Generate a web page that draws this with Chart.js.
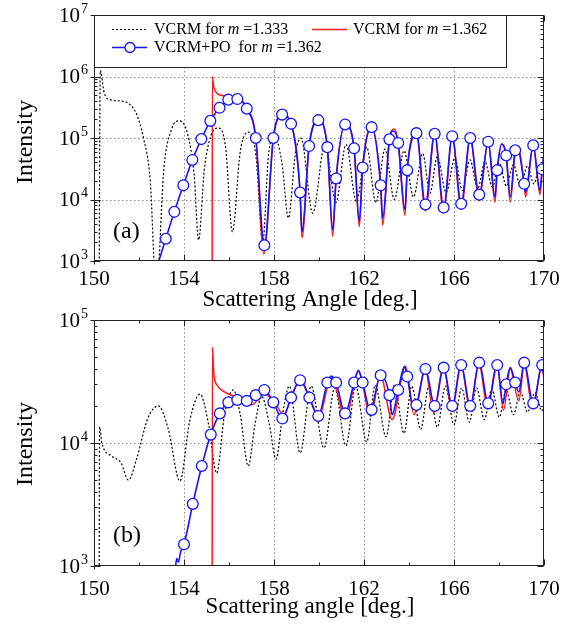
<!DOCTYPE html>
<html>
<head>
<meta charset="utf-8">
<script src="https://cdn.jsdelivr.net/npm/chart.js@4.4.0/dist/chart.umd.min.js"></script>
<style>
  html, body { margin: 0; padding: 0; background: #fff; }
  #wrap { position: relative; width: 579px; height: 624px; overflow: hidden; }
  canvas { position: absolute; left: 0; }
  #topChart { top: 0; }
  #botChart { top: 296px; }
</style>
</head>
<body>
<div id="wrap">
  <canvas id="topChart" width="579" height="312"></canvas>
  <canvas id="botChart" width="579" height="328"></canvas>
</div>
<script>
// ---- panel (a) ----
const blackTopAngle = [150.22, 150.28, 150.45, 150.7, 151.2, 151.6, 151.9, 152.2, 152.5, 152.77, 153.1, 153.45, 153.78, 154.15, 154.45, 154.65, 154.9, 155.2, 155.53, 155.85, 156.15, 156.5, 156.86, 157.2, 157.5, 157.75, 158.0, 158.35, 158.64, 158.95, 159.2, 159.72, 160.27, 160.75, 161.2, 161.66, 162.12, 162.53, 162.93, 163.35, 163.78, 164.2, 164.61, 164.93, 165.26, 165.65, 166.04, 166.37, 166.71, 167.05, 167.38, 167.7, 168.01, 168.33, 168.64, 168.95, 169.27, 169.55, 169.82, 170];
const blackTopValue = [100, 1.25e6, 5.5e5, 4.2e5, 4.0e5, 3.5e5, 2.4e5, 1.0e5, 2.0e4, 300, 3.0e4, 1.4e5, 1.9e5, 1.2e5, 2.5e4, 2.2e3, 3.0e4, 1.1e5, 1.45e5, 7.0e4, 3.0e3, 6.0e4, 1.25e5, 5.0e4, 2.0e3, 5.0e4, 1.1e5, 4.0e4, 5.0e3, 5.5e4, 1.0e5, 6.0e3, 8.1e4, 8.9e3, 7.8e4, 9.3e3, 7.1e4, 8.9e3, 6.6e4, 1.0e4, 6.2e4, 1.1e4, 5.6e4, 1.26e4, 5.0e4, 1.3e4, 4.7e4, 1.4e4, 4.4e4, 1.5e4, 4.1e4, 1.6e4, 3.9e4, 1.65e4, 3.7e4, 1.65e4, 3.5e4, 1.8e4, 3.5e4, 3.0e4];

const redTopAngle = [155.25, 155.26, 155.32, 155.45, 155.7, 156.0, 156.4, 156.79, 157.19, 157.55, 157.97, 158.36, 158.76, 159.16, 159.24, 159.56, 159.97, 160.37, 160.61, 160.76, 161.16, 161.56, 161.79, 161.94, 162.34, 162.74, 162.83, 163.13, 163.35, 163.52, 163.82, 163.92, 164.33, 164.73, 165.14, 165.54, 165.92, 166.32, 166.72, 167.12, 167.52, 167.82, 167.92, 168.12, 168.32, 168.5, 168.72, 168.82, 169.12, 169.18, 169.52, 169.82, 169.92, 170];
const redTopValue = [100, 1.0e6, 6.8e5, 5.4e5, 4.9e5, 4.7e5, 4.5e5, 3.1e5, 1.0e5, 1.3e3, 1.0e5, 2.4e5, 1.7e5, 1.3e4, 2.4e3, 7.4e4, 1.95e5, 7.1e4, 2.5e3, 2.2e4, 1.66e5, 6.8e4, 3.6e3, 3.3e4, 1.5e5, 1.7e4, 3.8e3, 9.5e4, 1.4e5, 8.3e4, 5.5e3, 3.0e4, 1.2e5, 6.5e3, 1.17e5, 6.0e3, 1.07e5, 7.0e3, 1.0e5, 9.5e3, 8.7e4, 9.0e3, 3.0e4, 8.0e4, 5.2e4, 9.0e3, 6.3e4, 7.5e4, 1.8e4, 1.1e4, 7.6e4, 1.2e4, 3.1e4, 5.5e4];

// VCRM+PO: open-circle samples, plus the turning points the line passes between them
const blueTopMarkAngle = [153.19, 153.57, 153.97, 154.37, 154.77, 155.17, 155.58, 155.97, 156.37, 156.79, 157.19, 157.57, 157.97, 158.36, 158.76, 159.16, 159.56, 159.97, 160.37, 160.76, 161.16, 161.56, 161.94, 162.34, 162.74, 163.13, 163.52, 163.92, 164.33, 164.73, 165.14, 165.54, 165.92, 166.32, 166.72, 167.12, 167.52, 167.92, 168.32, 168.72, 169.12, 169.52, 169.92];
const blueTopMarkValue = [2.3e3, 6.3e3, 1.7e4, 4.4e4, 9.6e4, 1.9e5, 3.1e5, 4.2e5, 4.3e5, 3.0e5, 1.0e5, 1.8e3, 1.0e5, 2.4e5, 1.7e5, 1.3e4, 7.4e4, 1.95e5, 7.1e4, 2.2e4, 1.66e5, 6.8e4, 3.3e4, 1.5e5, 1.7e4, 9.5e4, 8.3e4, 3.0e4, 1.2e5, 8.3e3, 1.17e5, 7.4e3, 1.07e5, 8.5e3, 1.0e5, 1.2e4, 8.7e4, 3.0e4, 5.2e4, 6.3e4, 1.8e4, 7.6e4, 3.1e4];
const blueTopLineAngle = [152.75, 152.95, 159.24, 160.61, 161.79, 162.83, 163.3, 163.82, 167.82, 168.12, 168.5, 168.82, 169.18, 169.82, 170];
const blueTopLineValue = [700, 1.2e3, 3.0e3, 3.2e3, 4.4e3, 4.9e3, 1.3e5, 6.8e3, 1.1e4, 8.0e4, 1.1e4, 7.0e4, 1.3e4, 1.4e4, 5.5e4];

// ---- panel (b) ----
const blackBotAngle = [150.22, 150.25, 150.35, 150.8, 151.2, 151.53, 151.9, 152.4, 152.86, 153.3, 153.82, 154.25, 154.71, 155.1, 155.45, 155.8, 156.19, 156.5, 156.86, 157.15, 157.45, 157.8, 158.09, 158.4, 158.68, 159.16, 159.65, 160.22, 160.7, 161.2, 161.63, 162.12, 162.5, 162.98, 163.35, 163.78, 164.12, 164.52, 164.88, 165.26, 165.62, 166.0, 166.34, 166.68, 167.0, 167.35, 167.68, 168.01, 168.32, 168.64, 168.95, 169.27, 169.6, 169.9, 170];
const blackBotValue = [100, 1.35e4, 1.0e4, 7.8e3, 6.9e3, 5.0e3, 7.5e3, 1.6e4, 2.0e4, 1.3e4, 4.9e3, 1.5e4, 2.5e4, 1.4e4, 5.7e3, 1.7e4, 2.7e4, 1.7e4, 6.5e3, 1.4e4, 2.4e4, 1.4e4, 7.4e3, 1.8e4, 2.9e4, 8.3e3, 2.9e4, 9.1e3, 2.8e4, 9.5e3, 2.9e4, 1.02e4, 2.95e4, 1.12e4, 2.95e4, 1.2e4, 2.9e4, 1.29e4, 2.9e4, 1.35e4, 2.9e4, 1.41e4, 2.8e4, 1.48e4, 2.8e4, 1.55e4, 2.75e4, 1.62e4, 2.7e4, 1.7e4, 2.6e4, 1.78e4, 2.57e4, 1.82e4, 2.0e4];

const redBotAngle = [155.25, 155.26, 155.33, 155.5, 155.8, 156.2, 156.6, 157.02, 157.55, 158.0, 158.42, 158.85, 159.18, 159.6, 159.97, 160.55, 161.18, 161.75, 162.3, 162.72, 163.25, 163.85, 164.22, 164.72, 165.1, 165.52, 165.92, 166.3, 166.72, 167.1, 167.5, 167.9, 168.2, 168.5, 168.88, 169.12, 169.5, 169.9, 170];
const redBotValue = [100, 6.0e4, 3.6e4, 2.9e4, 2.6e4, 2.4e4, 2.2e4, 2.05e4, 2.5e4, 2.2e4, 1.7e4, 2.6e4, 3.2e4, 2.3e4, 1.6e4, 3.4e4, 1.6e4, 3.8e4, 1.65e4, 3.6e4, 1.55e4, 4.2e4, 1.7e4, 4.0e4, 1.75e4, 4.2e4, 1.8e4, 4.4e4, 1.85e4, 4.5e4, 1.9e4, 4.5e4, 1.85e4, 4.0e4, 2.2e4, 4.3e4, 1.9e4, 4.2e4, 3.3e4];

const blueBotMarkAngle = [154.0, 154.39, 154.79, 155.19, 155.59, 155.97, 156.37, 156.79, 157.19, 157.57, 157.97, 158.37, 158.76, 159.16, 159.57, 159.97, 160.37, 160.76, 161.16, 161.56, 161.94, 162.34, 162.74, 163.13, 163.52, 163.92, 164.33, 164.73, 165.14, 165.54, 165.92, 166.32, 166.72, 167.12, 167.52, 167.92, 168.32, 168.72, 169.12, 169.52, 169.92];
const blueBotMarkValue = [1.5e3, 3.2e3, 6.5e3, 1.17e4, 1.74e4, 2.14e4, 2.24e4, 2.2e4, 2.45e4, 2.7e4, 2.14e4, 1.58e4, 2.34e4, 3.24e4, 2.34e4, 1.66e4, 3.1e4, 3.1e4, 1.74e4, 3.1e4, 3.1e4, 1.86e4, 3.55e4, 2.45e4, 2.7e4, 3.47e4, 2.04e4, 4.0e4, 2.0e4, 4.1e4, 2.0e4, 4.3e4, 2.0e4, 4.5e4, 2.1e4, 4.3e4, 3.0e4, 3.1e4, 4.5e4, 2.1e4, 4.3e4];
const blueBotLineAngle = [153.6, 153.68, 153.75, 153.85, 160.55, 161.75, 162.3, 163.25, 163.8, 164.2, 168.18, 168.5, 168.88, 170];
const blueBotLineValue = [900, 1.15e3, 1.08e3, 1.3e3, 3.5e4, 3.9e4, 1.8e4, 1.7e4, 4.2e4, 1.95e4, 2.1e4, 4.1e4, 2.6e4, 3.5e4];

const angleTicks = [150, 154, 158, 162, 166, 170];

const SERIF = '"Liberation Serif", "DejaVu Serif", serif';
const BLUE = '#1414ff';
const RED = '#ff1a1a';

function pts(xs, ys) {
  return xs.map((x, i) => ({ x: x, y: ys[i] }));
}

function mergedLine(markX, markY, extraX, extraY) {
  return pts(markX, markY).concat(pts(extraX, extraY)).sort((a, b) => a.x - b.x);
}

// draws text runs, some italic, starting at x
function richText(ctx, runs, x, y, size) {
  let cx = x;
  runs.forEach(r => {
    ctx.font = (r[1] ? 'italic ' : '') + size + 'px ' + SERIF;
    ctx.fillText(r[0], cx, y);
    cx += ctx.measureText(r[0]).width;
  });
}

const framePlugin = {
  id: 'frame',
  beforeDatasetsDraw(chart, args, opts) {
    const { ctx, chartArea: a, scales: { x, y } } = chart;
    ctx.save();
    ctx.strokeStyle = '#8a8a8a';
    ctx.lineWidth = 1;
    ctx.setLineDash([1.5, 2.5]);
    ctx.beginPath();
    angleTicks.slice(1, -1).forEach(v => {
      const px = Math.round(x.getPixelForValue(v)) + 0.5;
      ctx.moveTo(px, a.top);
      ctx.lineTo(px, a.bottom);
    });
    for (let e = opts.minExp + 1; e < opts.maxExp; e++) {
      const py = Math.round(y.getPixelForValue(Math.pow(10, e))) + 0.5;
      ctx.moveTo(a.left, py);
      ctx.lineTo(a.right, py);
    }
    ctx.stroke();
    ctx.restore();
  },
  afterDraw(chart, args, opts) {
    const { ctx, chartArea: a, scales: { x, y } } = chart;
    const L = Math.round(a.left) + 0.5, R = Math.round(a.right) - 0.5;
    const T = Math.round(a.top) + 0.5, B = Math.round(a.bottom) - 0.5;
    ctx.save();
    ctx.strokeStyle = '#222';
    ctx.lineWidth = 1;
    ctx.strokeRect(L, T, R - L, B - T);

    // tick marks
    ctx.beginPath();
    for (let e = opts.minExp; e <= opts.maxExp; e++) {
      const py = Math.round(y.getPixelForValue(Math.pow(10, e))) + 0.5;
      ctx.moveTo(L - 4, py); ctx.lineTo(L + 6, py);
      ctx.moveTo(R - 6, py); ctx.lineTo(R, py);
      if (e === opts.maxExp) break;
      for (let k = 2; k <= 9; k++) {
        const pm = Math.round(y.getPixelForValue(k * Math.pow(10, e))) + 0.5;
        ctx.moveTo(L, pm); ctx.lineTo(L + 3, pm);
        ctx.moveTo(R - 3, pm); ctx.lineTo(R, pm);
      }
    }
    for (let v = 150; v <= 170; v += 2) {
      const px = Math.round(x.getPixelForValue(v)) + 0.5;
      const len = (v - 150) % 4 === 0 ? 6 : 3;
      ctx.moveTo(px, B); ctx.lineTo(px, B - len);
      ctx.moveTo(px, T); ctx.lineTo(px, T + len);
      if (v === 150) { ctx.moveTo(px, B); ctx.lineTo(px, B + 4); }
    }
    ctx.stroke();

    // y labels 10^n
    ctx.fillStyle = '#000';
    for (let e = opts.minExp; e <= opts.maxExp; e++) {
      const py = y.getPixelForValue(Math.pow(10, e));
      ctx.textBaseline = 'middle';
      ctx.textAlign = 'right';
      ctx.font = '21px ' + SERIF;
      ctx.fillText('10', 80, py + 1);
      ctx.textAlign = 'left';
      ctx.font = '14px ' + SERIF;
      ctx.fillText(String(e), 81, py - 6);
    }

    // axis titles
    ctx.textAlign = 'center';
    ctx.textBaseline = 'middle';
    ctx.font = '23px ' + SERIF;
    ctx.fillText(opts.xTitle, 310, a.bottom + opts.titleGap);
    ctx.save();
    ctx.font = '24px ' + SERIF;
    ctx.translate(26, opts.yTitleY);
    ctx.rotate(-Math.PI / 2);
    ctx.fillText('Intensity', 0, 0);
    ctx.restore();

    // panel tag
    ctx.textAlign = 'left';
    ctx.font = '24px ' + SERIF;
    ctx.fillText(opts.tag, 113, a.bottom - opts.tagRise);

    if (opts.legend) {
      const bx = L, by = T, bw = 412, bh = 52;
      ctx.fillStyle = '#fff';
      ctx.fillRect(bx, by, bw, bh);
      ctx.strokeStyle = '#222';
      ctx.strokeRect(bx, by, bw, bh);
      const r1 = by + 14, r2 = by + 32;
      ctx.lineWidth = 1.2;
      ctx.strokeStyle = '#000';
      ctx.setLineDash([2, 2]);
      ctx.beginPath(); ctx.moveTo(112, r1); ctx.lineTo(147, r1); ctx.stroke();
      ctx.setLineDash([]);
      ctx.lineWidth = 1.5;
      ctx.strokeStyle = RED;
      ctx.beginPath(); ctx.moveTo(312, r1); ctx.lineTo(347, r1); ctx.stroke();
      ctx.strokeStyle = BLUE;
      ctx.beginPath(); ctx.moveTo(112, r2); ctx.lineTo(147, r2); ctx.stroke();
      ctx.fillStyle = '#fff';
      ctx.lineWidth = 1.3;
      ctx.beginPath(); ctx.arc(130, r2, 5, 0, Math.PI * 2); ctx.fill(); ctx.stroke();
      ctx.fillStyle = '#000';
      ctx.textBaseline = 'middle';
      richText(ctx, [['VCRM for ', false], ['m', true], [' =1.333', false]], 154, r1, 16);
      richText(ctx, [['VCRM for ', false], ['m', true], [' =1.362', false]], 353, r1, 16);
      richText(ctx, [['VCRM+PO  for ', false], ['m', true], [' =1.362', false]], 154, r2, 16);
    }
    ctx.restore();
  }
};

function makePanel(id, d) {
  const lineBase = { showLine: true, pointRadius: 0, cubicInterpolationMode: 'monotone', tension: 0.4, fill: false };
  return new Chart(document.getElementById(id), {
    type: 'scatter',
    data: {
      datasets: [
        Object.assign({}, lineBase, { label: 'VCRM for m =1.333', data: pts(d.blackX, d.blackY), borderColor: '#000', borderWidth: 1.2, borderDash: [2, 2], order: 4 }),
        Object.assign({}, lineBase, { label: 'VCRM for m =1.362', data: pts(d.redX, d.redY), borderColor: RED, borderWidth: 1.5, order: 3 }),
        Object.assign({}, lineBase, { label: 'VCRM+PO line', data: mergedLine(d.markX, d.markY, d.extraX, d.extraY), borderColor: BLUE, borderWidth: 1.6, order: 2 }),
        { label: 'VCRM+PO for m =1.362', data: pts(d.markX, d.markY), showLine: false, pointRadius: 5.4, pointBorderWidth: 1.3, pointBackgroundColor: '#fff', pointBorderColor: BLUE, order: 1 }
      ]
    },
    options: {
      responsive: false,
      animation: false,
      events: [],
      layout: { padding: { left: 0, right: 35, top: d.padTop, bottom: 0 } },
      scales: {
        x: {
          type: 'linear', min: 150, max: 170,
          ticks: { stepSize: 4, autoSkip: false, maxRotation: 0, color: '#000', padding: d.tickPad, font: { family: SERIF, size: 21 } },
          grid: { display: false, drawTicks: false },
          border: { display: false },
          afterFit(s) { s.height = d.xHeight; }
        },
        y: {
          type: 'logarithmic', min: Math.pow(10, d.minExp), max: Math.pow(10, d.maxExp),
          ticks: { display: false },
          grid: { display: false, drawTicks: false },
          border: { display: false },
          afterFit(s) { s.width = 94; }
        }
      },
      plugins: {
        legend: { display: false },
        tooltip: { enabled: false },
        frame: { minExp: d.minExp, maxExp: d.maxExp, xTitle: d.xTitle, titleGap: d.titleGap, yTitleY: d.yTitleY, tag: d.tag, tagRise: d.tagRise, legend: d.legend }
      }
    },
    plugins: [framePlugin]
  });
}

makePanel('topChart', {
  blackX: blackTopAngle, blackY: blackTopValue,
  redX: redTopAngle, redY: redTopValue,
  markX: blueTopMarkAngle, markY: blueTopMarkValue,
  extraX: blueTopLineAngle, extraY: blueTopLineValue,
  minExp: 3, maxExp: 7, padTop: 15, xHeight: 51, tickPad: 6,
  xTitle: 'Scattering Angle [deg.]', titleGap: 39, yTitleY: 142,
  tag: '(a)', tagRise: 29, legend: true
});

makePanel('botChart', {
  blackX: blackBotAngle, blackY: blackBotValue,
  redX: redBotAngle, redY: redBotValue,
  markX: blueBotMarkAngle, markY: blueBotMarkValue,
  extraX: blueBotLineAngle, extraY: blueBotLineValue,
  minExp: 3, maxExp: 5, padTop: 24, xHeight: 58, tickPad: 11,
  xTitle: 'Scattering angle [deg.]', titleGap: 41, yTitleY: 148,
  tag: '(b)', tagRise: 30, legend: false
});
</script>
</body>
</html>
